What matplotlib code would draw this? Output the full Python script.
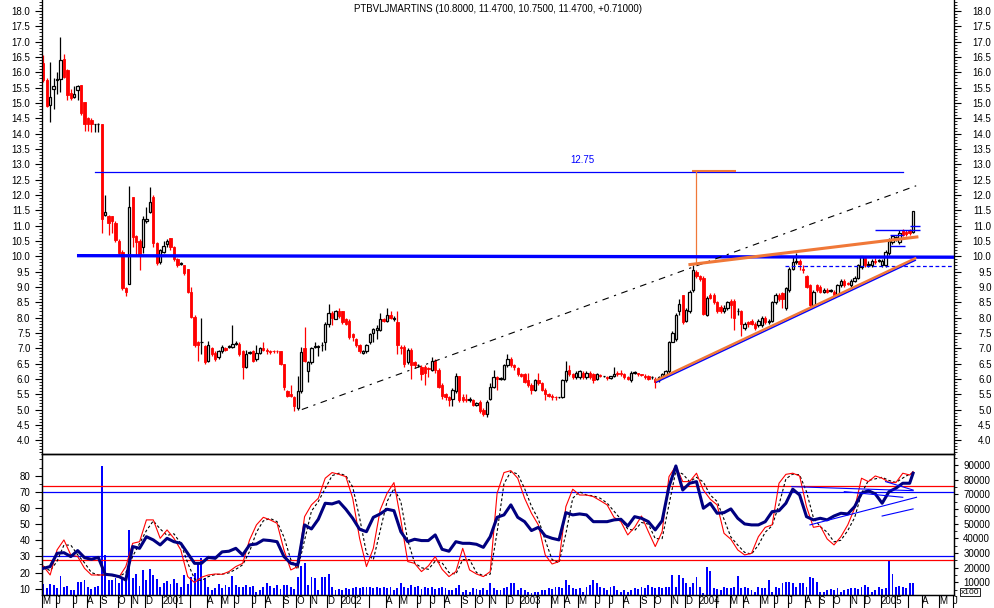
import numpy as np
import pandas as pd
import matplotlib
matplotlib.use("Agg")
import matplotlib.pyplot as plt
from matplotlib.ticker import MultipleLocator, FixedLocator, FormatStrFormatter

plt.rcParams['font.family'] = ['Liberation Sans', 'DejaVu Sans']
plt.rcParams['font.size'] = 7

title = "PTBVLJMARTINS (10.8000, 11.4700, 10.7500, 11.4700, +0.71000)"
first_bar = "2000-05-05"   # weekly bars

opens = [
    16.3, 15.75, 14.93, 15.45, 15.75, 15.78, 16.45, 16.07, 15.31, 15.2,
    15.42, 15.58, 15.04, 14.5, 14.45, 14.3, 14.3, 14.3, 11.35, 11.3,
    11.3, 11.1, 10.5, 10.15, 8.95, 9.11, 11.94, 10.65, 10.5, 10.3,
    11.15, 11.45, 11.94, 10.42, 9.8, 10.15, 10.4, 10.6, 10.3, 9.9,
    9.75, 9.7, 9.6, 8.84, 8.02, 7.2, 7.2, 7.07, 6.6, 7.0,
    6.85, 6.7, 6.9, 7.0, 7.05, 7.05, 7.15, 7.15, 6.9, 6.4,
    6.85, 6.9, 6.65, 6.85, 7.0, 6.95, 6.9, 6.92, 6.92, 6.9,
    6.5, 5.6, 5.5, 5.4, 5.05, 5.6, 7.0, 6.25, 6.55, 7.05,
    7.05, 7.1, 7.2, 7.8, 8.15, 7.97, 8.2, 8.2, 7.95, 7.9,
    7.45, 7.3, 7.1, 6.85, 6.9, 7.2, 7.5, 7.6, 7.6, 7.95,
    7.9, 8.1, 7.95, 7.85, 7.05, 7.05, 6.55, 6.95, 6.55, 6.45,
    6.4, 6.4, 6.35, 6.3, 6.6, 6.3, 5.8, 5.5, 5.4, 5.35,
    5.6, 6.1, 5.4, 5.35, 5.3, 5.3, 5.15, 5.25, 5.0, 4.85,
    5.35, 5.75, 6.05, 6.0, 6.0, 6.45, 6.65, 6.45, 6.35, 6.15,
    6.15, 5.95, 5.8, 5.65, 5.95, 5.85, 5.65, 5.5, 5.45, 5.42,
    5.4, 5.4, 5.95, 6.3, 6.15, 6.05, 6.05, 6.2, 6.05, 6.2,
    6.15, 6.0, 6.12, 6.08, 6.05, 6.02, 6.1, 6.2, 6.2, 6.15,
    6.05, 5.95, 6.2, 6.2, 6.15, 6.1, 6.1, 6.05, 6.0, 5.95,
    6.05, 6.1, 6.25, 7.21, 7.3, 8.2, 8.73, 7.9, 8.2, 8.9,
    9.5, 9.35, 9.3, 8.1, 8.75, 8.75, 8.5, 8.35, 8.2, 8.3,
    8.55, 8.55, 8.2, 8.2, 7.65, 7.85, 7.9, 7.8, 7.75, 7.75,
    8.0, 7.85, 7.9, 8.5, 8.75, 8.8, 8.3, 8.9, 9.6, 9.8,
    9.85, 9.6, 9.35, 9.05, 8.4, 9.05, 9.0, 8.85, 8.9, 8.88,
    8.85, 8.75, 9.05, 9.2, 9.12, 9.05, 9.2, 9.3, 9.65, 9.95,
    9.7, 9.7, 9.85, 9.85, 9.7, 9.7, 10.1, 10.45, 10.6, 10.45,
    10.85, 10.8, 10.85, 10.8]
highs = [
    16.55, 15.8, 16.33, 15.8, 16.0, 17.15, 16.6, 16.1, 15.45, 15.55,
    15.6, 15.58, 15.04, 14.55, 14.5, 14.32, 14.35, 14.32, 12.0, 11.35,
    11.3, 11.15, 10.55, 10.2, 9.0, 12.3, 11.94, 10.7, 10.55, 11.3,
    11.6, 12.27, 12.0, 10.45, 10.25, 10.5, 10.55, 10.6, 10.35, 9.95,
    9.8, 9.72, 9.6, 9.0, 8.1, 7.25, 8.0, 7.1, 7.25, 7.05,
    6.9, 6.95, 7.1, 7.05, 7.1, 7.75, 7.25, 7.2, 6.95, 6.95,
    6.9, 6.95, 7.1, 7.05, 7.2, 7.0, 6.95, 6.95, 6.95, 6.92,
    6.5, 5.65, 5.8, 5.45, 6.1, 7.05, 7.7, 6.6, 7.05, 7.2,
    7.1, 7.2, 7.85, 8.45, 8.2, 8.25, 8.3, 8.2, 8.0, 7.95,
    7.5, 7.35, 7.15, 6.95, 7.15, 7.5, 7.65, 7.75, 8.15, 8.0,
    8.3, 8.2, 8.05, 8.2, 7.1, 7.1, 7.0, 7.0, 6.6, 6.5,
    6.45, 6.45, 6.4, 6.7, 6.65, 6.35, 5.85, 5.55, 5.45, 5.7,
    6.2, 6.1, 5.5, 5.5, 5.4, 5.35, 5.25, 5.3, 5.05, 5.3,
    5.85, 6.3, 6.1, 6.05, 6.5, 6.8, 6.7, 6.5, 6.4, 6.2,
    6.2, 6.2, 5.85, 6.0, 6.2, 5.9, 5.7, 5.55, 5.5, 5.45,
    5.42, 6.0, 6.6, 6.45, 6.2, 6.25, 6.3, 6.25, 6.25, 6.25,
    6.2, 6.2, 6.15, 6.1, 6.08, 6.1, 6.4, 6.25, 6.3, 6.2,
    6.1, 6.25, 6.25, 6.2, 6.15, 6.15, 6.12, 6.1, 6.05, 6.1,
    6.2, 6.3, 7.25, 7.55, 8.15, 8.6, 8.75, 8.3, 8.9, 9.7,
    9.55, 9.4, 9.35, 8.7, 8.8, 8.8, 8.55, 8.4, 8.4, 8.55,
    8.6, 8.6, 8.3, 8.25, 7.85, 7.9, 7.95, 7.85, 7.95, 8.05,
    8.05, 7.95, 8.55, 8.8, 8.8, 8.85, 9.0, 9.65, 10.0, 10.1,
    9.9, 9.7, 9.4, 9.1, 8.9, 9.1, 9.05, 8.95, 8.95, 8.92,
    8.9, 9.1, 9.25, 9.25, 9.15, 9.25, 9.35, 9.75, 10.0, 10.0,
    9.85, 9.9, 9.95, 9.9, 9.9, 10.2, 10.58, 10.7, 10.65, 10.85,
    10.9, 10.85, 10.9, 11.47]
lows = [
    15.7, 14.88, 14.39, 14.8, 15.3, 15.35, 15.8, 15.1, 15.1, 15.15,
    15.1, 14.6, 14.1, 14.1, 14.05, 14.05, 14.05, 10.75, 11.3, 10.7,
    10.75, 10.45, 10.05, 8.9, 8.7, 9.1, 10.3, 10.0, 9.55, 10.1,
    11.1, 11.4, 10.3, 9.7, 9.75, 10.1, 10.3, 10.2, 9.85, 9.65,
    9.7, 9.4, 8.8, 8.0, 7.05, 6.6, 6.8, 6.5, 6.55, 6.75,
    6.6, 6.65, 6.85, 6.9, 7.0, 7.0, 7.1, 6.75, 6.0, 6.35,
    6.8, 6.55, 6.6, 6.8, 6.9, 6.8, 6.8, 6.85, 6.85, 6.45,
    5.65, 5.4, 5.4, 4.95, 5.0, 5.55, 6.55, 5.9, 6.5, 7.0,
    6.75, 6.9, 6.95, 7.7, 7.75, 7.95, 8.0, 7.8, 7.75, 7.3,
    7.25, 7.05, 6.85, 6.8, 6.85, 7.15, 7.2, 7.3, 7.55, 7.85,
    7.85, 7.95, 7.9, 6.8, 6.8, 6.4, 6.5, 6.0, 6.35, 6.4,
    5.95, 5.8, 6.05, 6.25, 6.2, 5.7, 5.35, 5.3, 5.1, 5.1,
    5.55, 5.25, 5.25, 5.25, 5.25, 5.1, 5.1, 4.9, 4.8, 4.75,
    5.3, 5.7, 5.65, 5.95, 5.95, 6.4, 6.4, 6.3, 6.1, 6.05,
    5.85, 5.75, 5.5, 5.6, 5.8, 5.6, 5.3, 5.4, 5.3, 5.3,
    5.38, 5.38, 5.9, 6.1, 6.0, 6.0, 6.0, 6.0, 6.0, 6.0,
    5.85, 5.95, 6.05, 6.05, 5.95, 6.0, 6.05, 6.1, 6.1, 6.0,
    5.95, 5.9, 6.15, 6.1, 6.1, 6.0, 5.95, 6.0, 5.7, 5.9,
    6.0, 6.05, 6.2, 7.2, 7.25, 8.1, 7.8, 7.85, 8.15, 8.85,
    9.3, 9.2, 8.1, 8.05, 8.6, 8.45, 8.15, 8.15, 8.15, 8.25,
    8.0, 7.6, 8.1, 7.4, 7.6, 7.7, 7.75, 7.6, 7.7, 7.7,
    7.8, 7.8, 7.85, 8.45, 8.55, 8.3, 8.25, 8.85, 9.55, 9.75,
    9.55, 9.45, 8.95, 8.35, 8.35, 8.85, 8.8, 8.8, 8.8, 8.85,
    8.7, 8.7, 9.0, 9.0, 9.05, 9.0, 9.15, 9.25, 9.6, 9.65,
    9.65, 9.65, 9.75, 9.8, 9.65, 9.65, 10.05, 10.4, 10.5, 10.4,
    10.65, 10.65, 10.7, 10.75]
closes = [
    15.75, 14.9, 15.2, 15.55, 15.78, 16.4, 15.86, 15.26, 15.15, 15.3,
    15.55, 14.67, 14.33, 14.33, 14.3, 14.3, 14.3, 11.23, 11.44, 11.1,
    11.15, 10.53, 10.1, 8.95, 8.85, 11.61, 10.63, 10.45, 10.0, 11.2,
    11.2, 11.78, 10.42, 9.77, 10.2, 10.35, 10.5, 10.3, 9.9, 9.7,
    9.75, 9.45, 8.84, 8.02, 7.1, 7.1, 7.2, 6.55, 7.1, 6.8,
    6.65, 6.9, 7.05, 6.95, 7.05, 7.15, 7.15, 6.8, 6.4, 6.8,
    6.85, 6.6, 6.85, 7.0, 6.95, 6.9, 6.88, 6.9, 6.9, 6.5,
    5.74, 5.45, 5.45, 5.1, 5.6, 6.88, 6.6, 6.55, 7.0, 7.05,
    7.05, 7.1, 7.8, 8.15, 8.0, 8.22, 8.05, 7.86, 7.8, 7.37,
    7.37, 7.1, 6.9, 6.9, 7.1, 7.45, 7.62, 7.65, 7.95, 7.9,
    8.1, 8.0, 8.0, 7.1, 7.0, 6.5, 6.95, 6.45, 6.45, 6.45,
    6.15, 6.2, 6.32, 6.6, 6.3, 5.74, 5.43, 5.4, 5.3, 5.65,
    6.1, 5.3, 5.3, 5.3, 5.35, 5.15, 5.2, 4.95, 4.85, 5.25,
    5.75, 6.05, 6.0, 6.0, 6.45, 6.65, 6.45, 6.4, 6.15, 6.1,
    5.9, 5.8, 5.65, 5.95, 5.85, 5.65, 5.5, 5.45, 5.42, 5.4,
    5.4, 5.95, 6.25, 6.15, 6.05, 6.2, 6.25, 6.05, 6.2, 6.05,
    5.95, 6.15, 6.08, 6.08, 6.02, 6.08, 6.15, 6.15, 6.15, 6.05,
    6.0, 6.2, 6.2, 6.15, 6.12, 6.05, 6.0, 6.05, 5.9, 6.05,
    6.15, 6.25, 7.21, 7.5, 8.1, 8.45, 7.86, 8.25, 8.85, 9.55,
    9.35, 9.25, 8.13, 8.65, 8.65, 8.5, 8.2, 8.2, 8.3, 8.5,
    8.4, 8.0, 8.2, 7.8, 7.8, 7.8, 7.8, 7.65, 7.9, 8.0,
    7.85, 7.9, 8.5, 8.75, 8.6, 8.6, 8.95, 9.6, 9.8, 9.85,
    9.75, 9.55, 9.0, 8.4, 8.85, 8.9, 8.85, 8.9, 8.85, 8.88,
    8.75, 9.05, 9.2, 9.05, 9.08, 9.2, 9.3, 9.7, 10.0, 9.7,
    9.75, 9.85, 9.8, 9.85, 9.85, 10.15, 10.5, 10.65, 10.6, 10.75,
    10.7, 10.72, 10.76, 11.47]

# weekly volume (thousands)
volume_k = [
    9, 6, 9, 8, 6, 14.5, 7, 7.5, 5, 5,
    10.5, 10.5, 11.6, 6.5, 5.5, 6.8, 7.5, 89, 28.6, 11.6,
    11.6, 12.7, 9.3, 13.8, 13.4, 46, 13, 16, 7.5, 18.4,
    11.6, 18.8, 15, 12, 7, 9.8, 11, 9, 12, 9.3,
    7, 15, 9, 13.8, 16.5, 24, 26.4, 12.7, 7, 5,
    6, 9, 6, 8, 7, 14.5, 8, 7, 7, 8,
    7, 7.5, 3.7, 5, 7, 9.3, 7.5, 6, 8, 5.5,
    8, 8, 7, 5.5, 13.8, 21, 23, 8, 13.4, 12.7,
    5, 13.4, 13.8, 16, 6.8, 4.5, 5.5, 5, 6, 5.5,
    6, 7, 6, 7, 6.5, 7, 6, 6.5, 6, 7,
    6, 7, 5, 6, 9.3, 7, 6, 8, 7, 7.5,
    5.5, 7, 6, 7, 5.5, 6, 7, 6, 4.5, 5,
    6, 8, 3.7, 5, 3.7, 6, 5.5, 5, 6, 5,
    9.8, 6, 4.5, 5, 6, 7, 9.8, 9.3, 5, 6,
    5, 3.7, 3, 3.7, 3.7, 5, 4.5, 6, 5.5, 7,
    6.5, 6, 11.6, 8, 6, 5.5, 6, 3.7, 7, 8,
    11.6, 9.3, 7, 6, 5, 7, 7.5, 5, 3.7, 4.5,
    3.7, 5, 6, 5.5, 7, 6, 8, 7, 6, 7,
    6, 7, 7, 15, 7, 15, 12.7, 9.3, 7, 9.3,
    13.8, 7, 2.6, 20.6, 18, 6, 5.5, 5, 7, 6,
    6, 7, 14.5, 6, 7, 6, 5, 3.7, 7, 6,
    6, 11.6, 3.7, 7, 6, 9.3, 10.5, 10.5, 9.3, 7,
    9.8, 9.3, 7, 13.8, 12.7, 10.5, 3.7, 3.7, 5, 5.5,
    5, 6, 3.7, 5, 5.5, 6, 6, 5.5, 7, 8,
    7, 3.7, 5, 7, 5.5, 6, 24.7, 16, 7, 7.5,
    7, 6, 9.3, 9.8]

# oscillators, read every second week (+ last week)
strength = [
    22.6, 23.7, 31.9, 32.3, 29.9, 33.6, 29.2, 28.2, 29.4, 18.9,
    18.5, 17.5, 15.4, 36.1, 35.0, 42.2, 40.2, 37.1, 41.2, 39.1,
    38.1, 31.9, 25.7, 25.7, 29.4, 28.8, 32.8, 33.2, 35.0, 30.9,
    37.1, 37.7, 40.2, 39.8, 39.1, 29.9, 25.7, 24.7, 49.5, 47.0,
    53.0, 62.9, 62.5, 63.9,
    59.2, 53.6, 46.8, 45.3, 54.2, 56.3, 59.2, 58.3, 45.3, 39.1,
    40.6, 39.8, 39.8, 43.3, 34.4, 33.2, 39.1, 38.1, 38.1, 37.5,
    35.6, 42.2, 54.2, 55.7, 61.9, 54.2, 51.5, 46.0, 48.0, 42.7,
    41.2, 40.2, 57.1, 55.7, 56.3, 55.7, 51.5, 51.5, 51.5, 52.6,
    53.0, 48.8, 54.6, 53.6, 51.5, 46.4, 52.1,
    73.2, 86.0, 71.1, 75.3, 76.3, 59.8, 62.9, 56.7, 57.1, 59.4,
    53.6, 50.1, 49.5, 49.5, 51.5, 57.7, 58.3, 62.9, 71.6, 68.0,
    54.6, 52.6, 53.6, 52.6, 55.0, 56.7, 56.3, 60.8, 69.1, 70.7,
    68.7, 62.9, 70.1, 72.2, 75.3, 75.3, 81.5]
stoch_k = [
    24.0, 18.5, 34.0, 40.2, 30.9, 29.9, 22.6, 18.5, 18.5, 18.5,
    18.1, 17.1, 23.7, 38.1, 39.1, 52.6, 52.6, 41.2, 46.4, 41.2,
    34.0, 17.5, 13.8, 17.1, 18.5, 19.1, 18.9, 20.6, 23.7, 25.7,
    40.2, 49.5, 54.2, 52.6, 50.5, 34.0, 21.6, 23.7, 54.6, 61.9,
    66.0, 78.4, 81.9, 80.8,
    79.4, 66.0, 41.2, 23.7, 35.0, 58.8, 69.1, 75.7, 52.6, 26.8,
    25.7, 20.6, 24.1, 29.9, 22.0, 17.5, 20.6, 35.0, 21.6, 19.1,
    17.5, 20.6, 69.1, 81.9, 83.1, 78.4, 66.0, 56.7, 49.5, 30.9,
    25.3, 26.8, 60.8, 71.6, 68.0, 68.0, 67.0, 64.5, 61.9, 54.2,
    51.5, 43.3, 48.0, 55.0, 45.3, 36.1, 45.3,
    79.4, 86.0, 76.3, 76.3, 81.5, 71.1, 65.4, 61.9, 44.3, 40.6,
    34.0, 30.9, 31.9, 42.2, 48.0, 49.5, 75.3, 80.8, 81.5, 79.8,
    60.8, 48.0, 48.8, 40.8, 37.1, 42.2, 49.5, 59.8, 78.4, 76.3,
    79.8, 78.4, 75.9, 75.7, 81.5, 80.4, 82.5]
stoch_d = [
    24.0, 21.0, 27.0, 37.0, 37.0, 31.0, 26.0, 20.0, 18.5, 18.5,
    18.3, 17.5, 20.0, 30.0, 38.0, 46.0, 52.0, 47.0, 43.0, 44.0,
    38.0, 26.0, 16.0, 15.0, 17.5, 18.8, 19.0, 19.8, 22.0, 24.8,
    33.0, 45.0, 52.0, 53.5, 51.5, 42.0, 28.0, 22.0, 40.0, 58.0,
    64.0, 72.0, 80.0, 81.5,
    80.0, 73.0, 54.0, 32.0, 28.0, 46.0, 64.0, 72.0, 64.0, 40.0,
    26.0, 23.0, 22.0, 27.0, 26.0, 20.0, 19.0, 28.0, 28.0, 20.0,
    18.0, 19.0, 45.0, 75.0, 82.5, 81.0, 72.0, 61.0, 53.0, 40.0,
    28.0, 26.0, 44.0, 66.0, 70.0, 68.0, 67.5, 66.0, 63.0, 58.0,
    53.0, 47.0, 46.0, 51.0, 50.0, 41.0, 41.0,
    62.0, 83.0, 81.0, 76.3, 79.0, 76.0, 68.0, 64.0, 53.0, 42.0,
    37.0, 32.5, 31.4, 37.0, 45.0, 49.0, 62.0, 78.0, 81.0, 80.5,
    70.0, 54.0, 48.4, 45.0, 39.0, 40.0, 46.0, 54.0, 69.0, 77.0,
    78.0, 79.0, 77.0, 75.8, 78.5, 81.0, 81.5]

# drawn studies: (bar, price) end points
resistance_1275 = [(15.0, 12.75), (250.0, 12.75)]
support_10 = [(9.8, 10.02), (264.9, 9.97)]
dashed_965 = [(215.8, 9.68), (264.9, 9.68)]
long_trend = [(75.2, 5.0), (253.9, 12.3)]
upper_wedge = [(188.1, 9.73), (254.1, 10.63)]
lower_wedge = [(178.4, 5.96), (253.6, 9.93)]
measure_x, measure_lo, measure_hi = 189.8, 9.75, 12.78
small_marks = [(252.1, 254.9, 10.98), (241.9, 255.0, 10.85),
               (246.3, 250.1, 10.69), (246.3, 250.7, 10.33)]
osc_trends = [[(217.7, 73.2), (253.0, 70.7)], [(223.0, 49.5), (254.0, 66.6)],
              [(244.0, 55.0), (253.0, 59.4)], [(245.0, 76.3), (253.0, 71.1)],
              [(233.0, 70.1), (250.0, 66.6)]]

n = len(closes)
x = np.arange(n)
o = np.array(opens); h = np.array(highs); l = np.array(lows); c = np.array(closes)
up = c >= o
osc_x = np.r_[np.arange(0, n, 2), n - 1]

fig = plt.figure(figsize=(9.94, 6.08), dpi=100)
L, W = 41.5 / 994, (954 - 41.5) / 994
ax = fig.add_axes([L, 154 / 608, W, 454 / 608])
ax2 = fig.add_axes([L, 13 / 608, W, 141 / 608], sharex=ax)

# ---- price panel
ax.vlines(x[up], l[up], h[up], color='black', lw=0.9, zorder=2)
ax.vlines(x[~up], l[~up], h[~up], color='red', lw=0.9, zorder=2)
body = np.maximum(np.abs(c - o), 0.015)
bottom = np.minimum(o, c)
ax.bar(x[up], body[up], bottom=bottom[up], width=0.68, facecolor='white',
       edgecolor='black', lw=0.9, zorder=3)
ax.bar(x[~up], body[~up], bottom=bottom[~up], width=0.68, facecolor='red',
       edgecolor='red', lw=0.6, zorder=3)

def seg(a, pts, **kw):
    a.plot([p[0] for p in pts], [p[1] for p in pts], **kw)

seg(ax, resistance_1275, color='blue', lw=0.9, zorder=4)
ax.text(156.7, 13.15, "12.75", color='blue', ha='center', va='center')
ax.vlines(measure_x, measure_lo, measure_hi, color='#f07838', lw=0.9, zorder=4)
ax.hlines(measure_hi, 188.7, 201.5, color='#f07838', lw=1.5, zorder=4)
seg(ax, support_10, color='blue', lw=2.4, zorder=4, solid_capstyle='butt')
seg(ax, dashed_965, color='blue', lw=0.9, ls=(0, (3, 2)), zorder=4)
seg(ax, long_trend, color='black', lw=0.8, ls=(0, (6, 5, 2, 5)), zorder=4)
seg(ax, upper_wedge, color='#f07838', lw=2.2, zorder=5)
seg(ax, [(p[0], p[1] - 0.06) for p in lower_wedge], color='blue', lw=1.2, zorder=4)
seg(ax, lower_wedge, color='#f07838', lw=1.8, zorder=5)
for x0, x1, yv in small_marks:
    ax.hlines(yv, x0, x1, color='blue', lw=1.0, zorder=5)

ax.set_xlim(-0.52, 264.9)
ax.set_ylim(3.55, 18.36)
ax.yaxis.set_major_locator(MultipleLocator(0.5))
ax.yaxis.set_minor_locator(MultipleLocator(0.1))
ax.yaxis.set_major_formatter(FormatStrFormatter('%.1f'))
ax.tick_params(axis='y', which='major', length=5, width=0.8, pad=3, direction='out')
ax.tick_params(axis='y', which='minor', length=2.5, width=0.6, direction='out')
ax.tick_params(axis='x', bottom=False, labelbottom=False)
ax.spines['top'].set_visible(False)
for s in ax.spines.values():
    s.set_linewidth(0.9)

axr = ax.twinx()
axr.set_ylim(ax.get_ylim())
axr.yaxis.set_major_locator(MultipleLocator(0.5))
axr.yaxis.set_minor_locator(MultipleLocator(0.1))
axr.yaxis.set_major_formatter(FormatStrFormatter('%.1f'))
axr.tick_params(axis='y', which='major', length=5, width=0.8, pad=22, direction='out')
axr.tick_params(axis='y', which='minor', length=2.5, width=0.6, direction='out')
for t in axr.get_yticklabels():
    t.set_horizontalalignment('right')
axr.spines['top'].set_visible(False)

fig.text(497.7 / 994, 1 - 9 / 608, title, ha='center', va='center')

# ---- oscillator + volume panel
axv = ax2.twinx()
axv.bar(x, np.array(volume_k) * 1000, width=0.55, color='#0000ff', zorder=1)
axv.set_ylim(1340, 97500)
axv.yaxis.set_major_locator(FixedLocator(list(range(10000, 100000, 10000))))
axv.yaxis.set_minor_locator(MultipleLocator(5000))
axv.tick_params(axis='y', which='major', length=3, width=0.8, pad=23, direction='out')
axv.tick_params(axis='y', which='minor', length=2, width=0.6, direction='out')
for t in axv.get_yticklabels():
    t.set_horizontalalignment('right')
ax2.set_zorder(axv.get_zorder() + 1)
ax2.patch.set_visible(False)

for yv, col in [(73.4, 'red'), (27.5, 'red'), (70, 'blue'), (30, 'blue')]:
    ax2.axhline(yv, color=col, lw=0.9, zorder=2)
ax2.plot(osc_x, stoch_d, color='black', lw=0.8, ls=(0, (2.5, 2)), zorder=3)
ax2.plot(osc_x, stoch_k, color='red', lw=0.8, zorder=3)
ax2.plot(osc_x, strength, color='#000080', lw=2.2, zorder=4)
for tr in osc_trends:
    seg(ax2, tr, color='blue', lw=0.8, zorder=4)

ax2.set_ylim(6.1, 93.4)
ax2.yaxis.set_major_locator(FixedLocator(list(range(10, 90, 10))))
ax2.yaxis.set_minor_locator(FixedLocator(list(range(10, 95, 5))))
ax2.tick_params(axis='y', which='major', length=5, width=0.8, pad=3, direction='out')
ax2.tick_params(axis='y', which='minor', length=2.5, width=0.6, direction='out')
for a in (ax2, axv):
    for s in a.spines.values():
        s.set_linewidth(0.9)

# month ticks at the first weekly bar of each month
bar_dates = pd.date_range(first_bar, periods=n + 14, freq='7D')
skip = {(2001, 2), (2001, 3), (2002, 2), (2002, 3), (2003, 2), (2004, 2),
        (2005, 2), (2005, 3)}
month_pos, month_txt = [], []
for i, d in enumerate(bar_dates):
    if i == 0 or d.month != bar_dates[i - 1].month:
        month_pos.append(i - 0.4)
        if d.month == 1:
            month_txt.append(str(d.year))
        elif (d.year, d.month) in skip:
            month_txt.append('')
        else:
            month_txt.append('JFMAMJJASOND'[d.month - 1])
ax2.set_xticks(month_pos)
ax2.set_xticklabels(month_txt, ha='left')
ax2.tick_params(axis='x', length=9.5, width=0.8, pad=-8.8, direction='out')
ax2.set_xlim(-0.52, 264.9)

fig.text(970 / 994, 1 - 592 / 608, "x100", ha='center', va='center', fontsize=6,
         bbox=dict(boxstyle='square,pad=0.1', facecolor='white', edgecolor='black', lw=0.6))

fig.savefig('out.png', dpi=100)
